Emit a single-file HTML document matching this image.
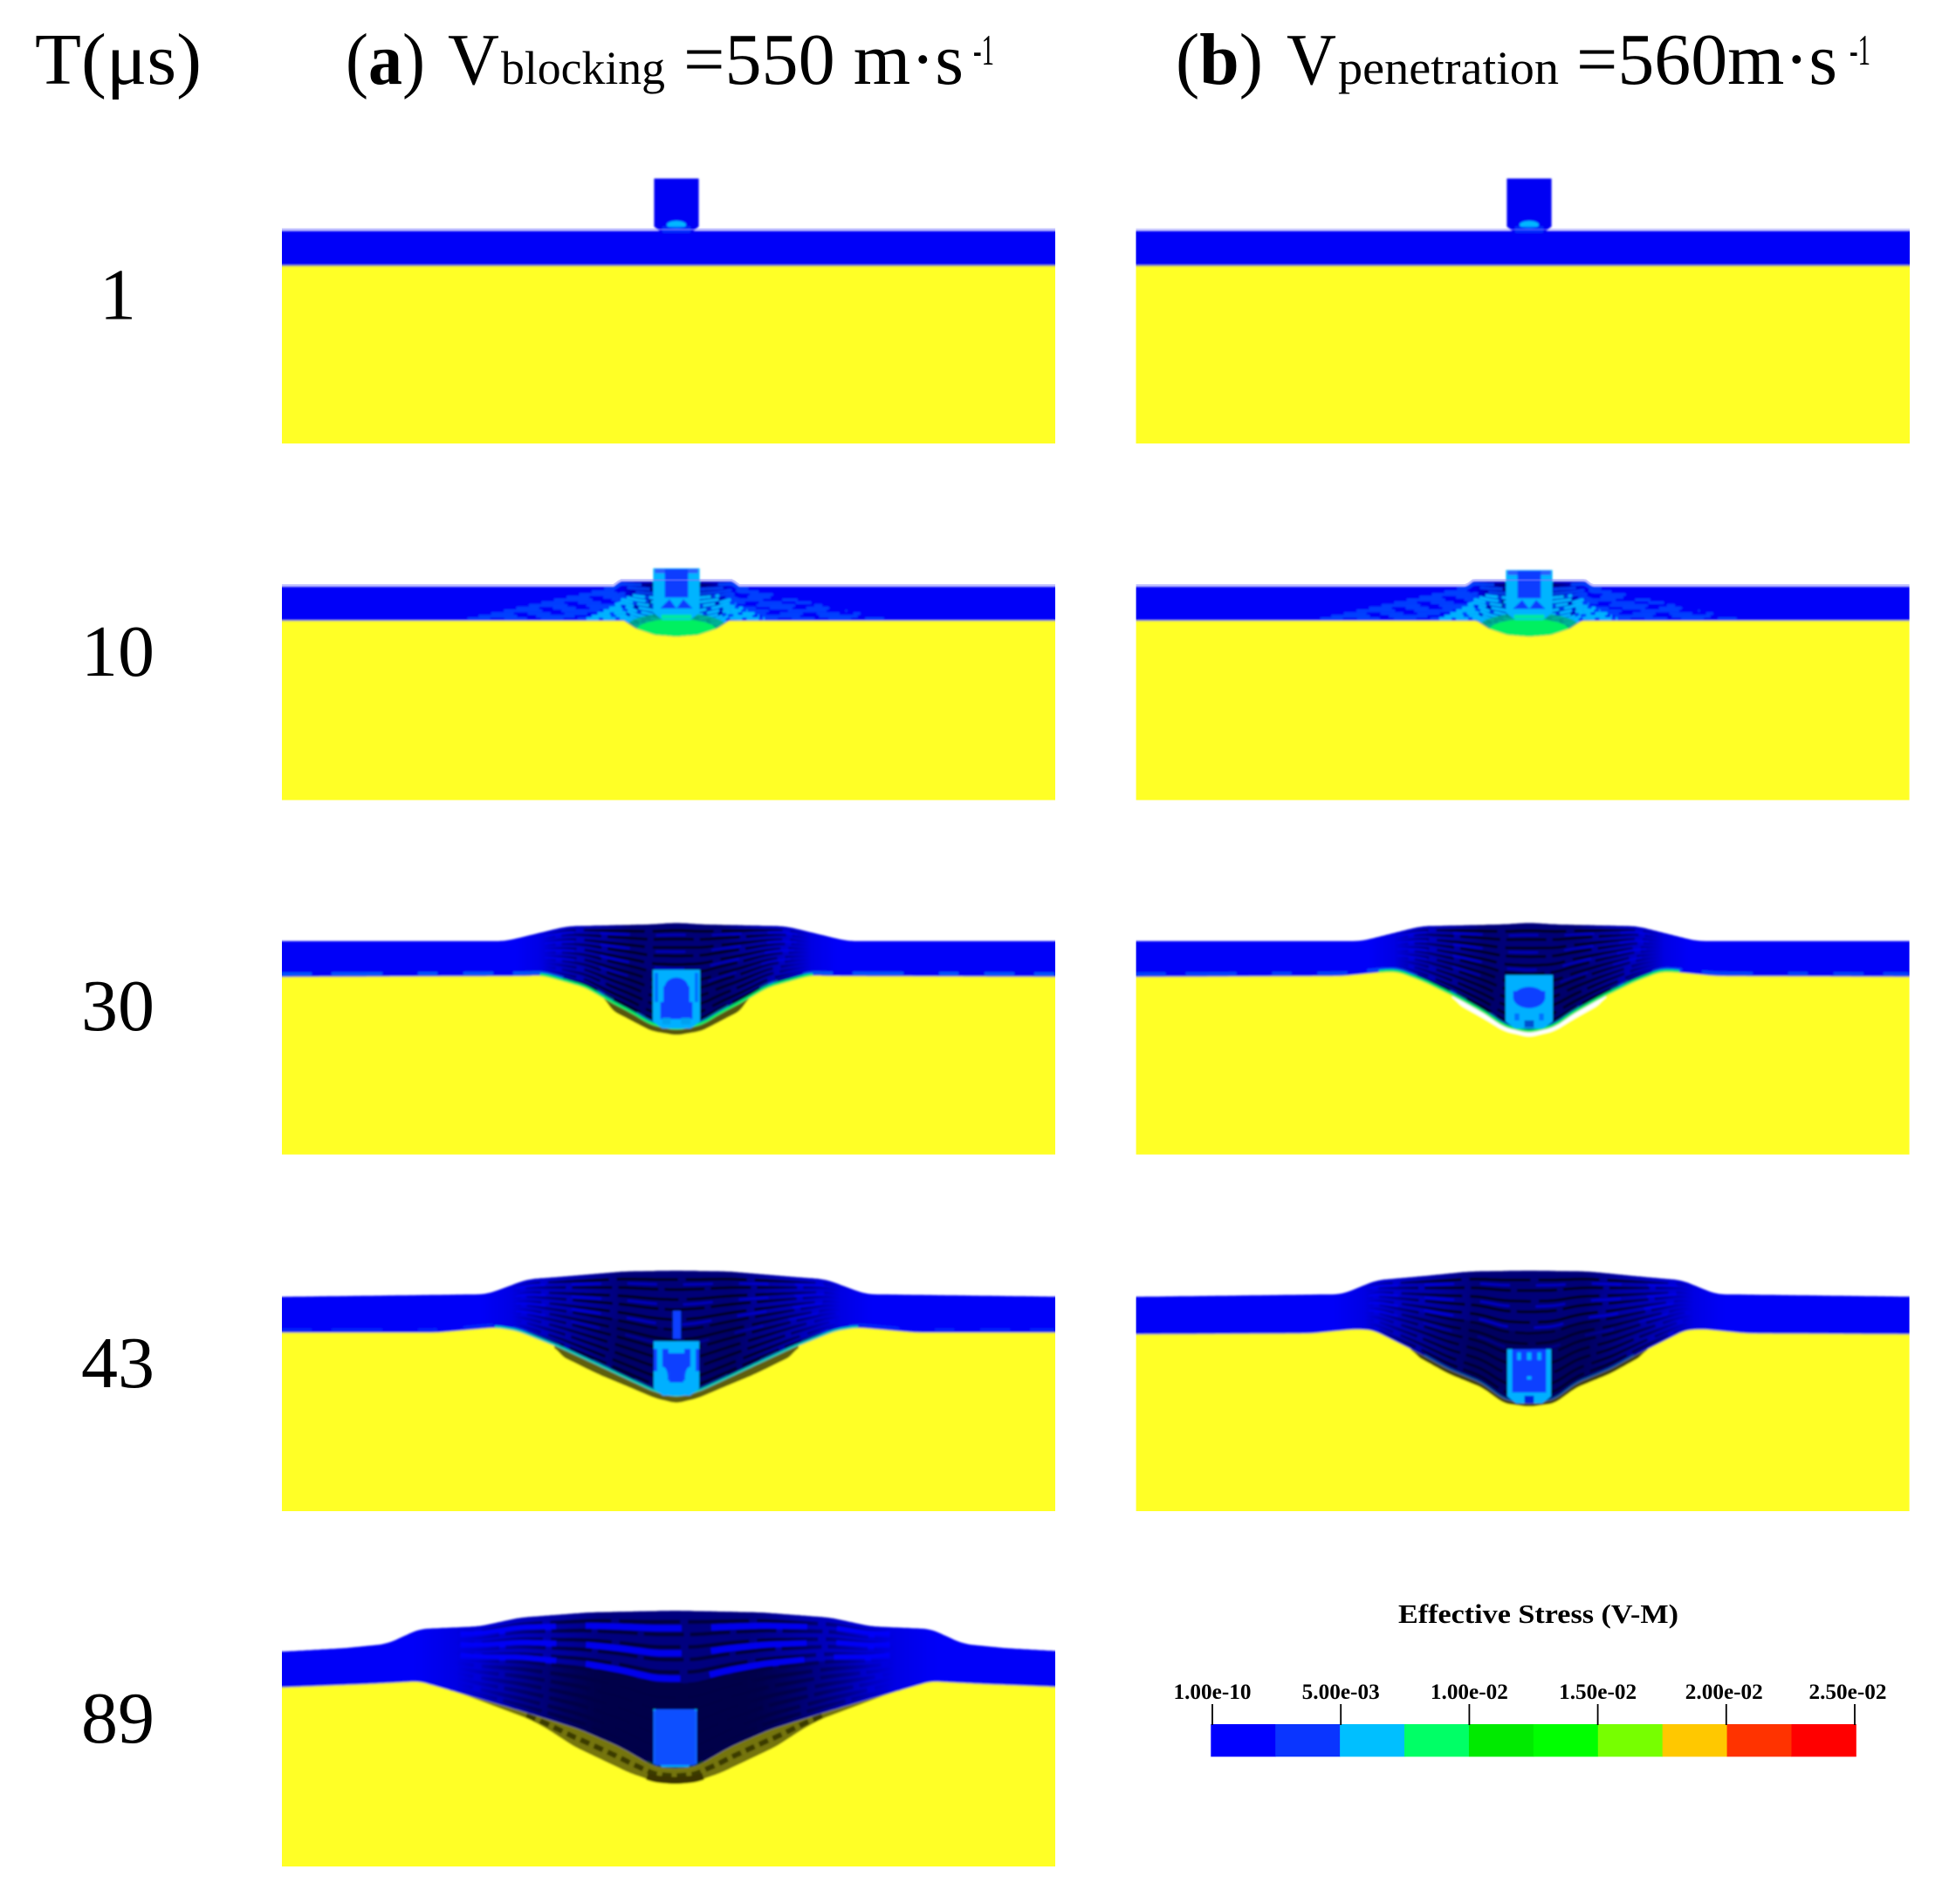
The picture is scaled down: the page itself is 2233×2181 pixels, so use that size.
<!DOCTYPE html>
<html lang="en">
<head>
<meta charset="utf-8">
<title>Effective stress contours at blocking and penetration velocities</title>
<style>
html,body{margin:0;padding:0;background:#fff;width:2233px;height:2181px;overflow:hidden}
svg{display:block}
text{font-family:"Liberation Serif",serif;fill:#000}
</style>
</head>
<body>
<svg id="figure" xmlns="http://www.w3.org/2000/svg" width="2233" height="2181" viewBox="0 0 2233 2181">
  <defs id="defs"><filter id="soft" x="-5%" y="-5%" width="110%" height="110%"><feGaussianBlur stdDeviation="1.1"/></filter></defs>
  <rect width="2233" height="2181" fill="#fff"/>

  <text x="40" y="96" font-size="84" textLength="191" lengthAdjust="spacingAndGlyphs">T(μs)</text>

  <g>
    <text x="396" y="96" font-size="84" textLength="91" lengthAdjust="spacingAndGlyphs">(<tspan font-weight="bold">a</tspan>)</text>
    <text x="513" y="96" font-size="84" textLength="59" lengthAdjust="spacingAndGlyphs">V</text>
    <text x="574" y="96" font-size="54" textLength="188" lengthAdjust="spacingAndGlyphs">blocking</text>
    <text x="783" y="96" font-size="84" textLength="321" lengthAdjust="spacingAndGlyphs">=550 m·s</text>
    <text x="1115" y="74" font-size="50" textLength="24" lengthAdjust="spacingAndGlyphs">-1</text>
  </g>
  <g>
    <text x="1347" y="96" font-size="84" textLength="100" lengthAdjust="spacingAndGlyphs">(<tspan font-weight="bold">b</tspan>)</text>
    <text x="1474" y="96" font-size="84" textLength="57" lengthAdjust="spacingAndGlyphs">V</text>
    <text x="1533" y="96" font-size="54" textLength="253" lengthAdjust="spacingAndGlyphs">penetration</text>
    <text x="1806" y="96" font-size="84" textLength="299" lengthAdjust="spacingAndGlyphs">=560m·s</text>
    <text x="2119" y="74" font-size="50" textLength="24" lengthAdjust="spacingAndGlyphs">-1</text>
  </g>

  <g id="panels"></g>
  <g id="times"></g>
  <g id="legend">
    <text x="1602" y="1859" font-size="31" font-weight="bold" textLength="321" lengthAdjust="spacingAndGlyphs">Effective Stress (V-M)</text>
  </g>
</svg>

<script>
/* Time steps and rows */
const timeLabels = ['1', '10', '30', '43', '89'];

/* Colorbar values */
const barColors = ['#0000ff', '#0a35ff', '#00bfff', '#00ff66', '#00ea00', '#00ff00', '#77ff00', '#ffc800', '#ff3300', '#ff0000'];
const tickValues = [0.0000000001, 0.005, 0.01, 0.015, 0.02, 0.025];
const tickLabels = ['1.00e-10', '5.00e-03', '1.00e-02', '1.50e-02', '2.00e-02', '2.50e-02'];

/* Deformation, in mm. D = distance from impact axis. */
const layerFractions = [0.07, 0.15, 0.23, 0.31, 0.39, 0.47, 0.55, 0.63, 0.71, 0.79, 0.87, 0.94];

const flatTopD = [0, 226];
const flatTopY = [0, 0];
const flatBotD = [0, 226];
const flatBotY = [20, 20];

const a10TopD = [0, 15, 32, 36, 226];
const a10TopY = [-3, -3, -3, 0, 0];
const a10BotD = [0, 12.5, 23, 30, 34, 226];
const a10BotY = [28.5, 27.5, 24, 19.5, 19.5, 19.5];

const a30TopD = [0, 15, 62.5, 98, 226];
const a30TopY = [-10.5, -9.5, -8.5, 0, 0];
const a30BotD = [0, 14.5, 25, 37.5, 52, 66, 77, 87.5, 226];
const a30BotY = [51, 48, 41.5, 35, 26.5, 22.5, 19.5, 20, 20.5];
const a30OutD = [0, 14.5, 25, 37.5, 42];
const a30OutY = [54, 51.5, 46, 39.5, 31];

const b30TopD = [0, 15, 62, 96, 226];
const b30TopY = [-10.5, -9.5, -8.5, 0, 0];
const b30BotD = [0, 14.5, 25, 41, 60.5, 75, 82, 107, 226];
const b30BotY = [52.5, 49, 41.5, 32.5, 23, 17.5, 17.5, 20, 20.5];
const b30OutD = [0, 14.5, 25, 41, 44];
const b30OutY = [55, 51.5, 45, 36, 31];

const a43TopD = [0, 30, 66, 85.5, 108.5, 226];
const a43TopY = [-15, -14.5, -11.5, -10, -1.5, 0];
const a43BotD = [0, 12.5, 26.5, 44.5, 66, 91, 103.5, 137.5, 226];
const a43BotY = [57.5, 54.5, 48, 39.5, 29.5, 19.5, 17.5, 20.5, 20.5];
const a43OutD = [0, 12.5, 26.5, 44.5, 66, 70];
const a43OutY = [61, 58, 52, 44.5, 34, 28];

const b43TopD = [0, 34, 64.5, 87.5, 107, 226];
const b43TopY = [-15, -14.5, -11.5, -9.5, -1.5, 0];
const b43BotD = [0, 14.5, 27, 46.5, 64.5, 89.5, 100, 125, 226];
const b43BotY = [61.5, 59, 49.5, 41.5, 31.5, 19, 18.5, 21, 21.5];
const b43OutD = [0, 14.5, 27, 46.5, 64.5, 68];
const b43OutY = [63, 61, 52, 44, 34, 29];

const a89TopD = [0, 49, 89, 112, 146.5, 165, 189.5, 226];
const a89TopY = [-23.5, -22.5, -19.5, -14.5, -13, -4.5, -2, 0];
const a89BotD = [0, 11.5, 31.5, 54.5, 83, 129, 146.5, 175, 226];
const a89BotY = [67, 66, 54.5, 44.5, 35.5, 22, 17, 18.5, 20.5];
const a89OutD = [0, 11.5, 26, 57.5, 74.5, 84, 120, 129];
const a89OutY = [75.5, 74.5, 69.5, 54.5, 43.5, 38.5, 25, 22];

/* Layout constants */
const PX_PER_MM = 2;
const PANEL_W = 886;
const rowTop = [264.5, 672, 1078, 1485.5, 1892];
const rowBottom = [508, 916.5, 1322.5, 1731, 2138];
const timeBaselines = [365.5, 774, 1180, 1589, 1996];
const colLeft = [323, 1301.6];

const panels = [
  {id:'a1', col:0,row:0,cx:775,topD:flatTopD,topY:flatTopY,botD:flatBotD,botY:flatBotY,pHalf:12.8,pTop:-30,pBot:1.5,kind:'intact',halo:.45},
  {id:'b1', col:1,row:0,cx:1752,topD:flatTopD,topY:flatTopY,botD:flatBotD,botY:flatBotY,pHalf:12.8,pTop:-30,pBot:1.5,kind:'intact',halo:.3},
  {id:'a10',col:0,row:1,cx:775,topD:a10TopD,topY:a10TopY,botD:a10BotD,botY:a10BotY,pHalf:13.3,pTop:-10.5,pBot:19,kind:'early',halo:.4,
    darkD:36,darkOp:.6,streakOp:.5,coreOp:0,blueOp:0,fleck:0},
  {id:'b10',col:1,row:1,cx:1752,topD:a10TopD,topY:a10TopY,botD:a10BotD,botY:a10BotY,pHalf:13.3,pTop:-9.5,pBot:19,kind:'early',halo:.4,
    darkD:36,darkOp:.55,streakOp:.5,coreOp:0,blueOp:0,fleck:0},
  {id:'a30',col:0,row:2,cx:775,topD:a30TopD,topY:a30TopY,botD:a30BotD,botY:a30BotY,outD:a30OutD,outY:a30OutY,outColor:'#57570e',
    pHalf:13.5,pTop:16.5,pBot:50,kind:'a30',edge:'#00e860',edgeW:3,edgeSpan:78,darkD:92,darkOp:1,streakOp:.9,coreOp:.25,blueOp:.5,fleck:.5},
  {id:'b30',col:1,row:2,cx:1752,topD:b30TopD,topY:b30TopY,botD:b30BotD,botY:b30BotY,outD:b30OutD,outY:b30OutY,outColor:'#ffffff',
    pHalf:13.5,pTop:19.5,pBot:50,kind:'b30',edge:'#00e860',edgeW:3,edgeSpan:86,darkD:92,darkOp:1,streakOp:.9,coreOp:.25,blueOp:.5,fleck:.4},
  {id:'a43',col:0,row:3,cx:775,topD:a43TopD,topY:a43TopY,botD:a43BotD,botY:a43BotY,outD:a43OutD,outY:a43OutY,outColor:'#5f5f10',
    pHalf:13,pTop:25.5,pBot:56.5,kind:'a43',edge:'#00c8b0',edgeW:2.5,edgeSpan:104,spike:true,darkD:112,darkOp:1,streakOp:.95,coreOp:.35,blueOp:.55,fleck:.2},
  {id:'b43',col:1,row:3,cx:1752,topD:b43TopD,topY:b43TopY,botD:b43BotD,botY:b43BotY,outD:b43OutD,outY:b43OutY,outColor:'#3c3c08',
    pHalf:12.5,pTop:30,pBot:61,kind:'b43',edge:'#0050a0',edgeW:2,edgeSpan:60,darkD:112,darkOp:1,streakOp:.95,coreOp:.5,blueOp:.6,fleck:0},
  {id:'a89',col:0,row:4,cx:773.5,topD:a89TopD,topY:a89TopY,botD:a89BotD,botY:a89BotY,outD:a89OutD,outY:a89OutY,outColor:'#74740f',
    pHalf:12.5,pTop:33,pBot:66,kind:'a89',edge:'#003c20',edgeW:2,edgeSpan:16,darkD:150,darkOp:.95,streakOp:.6,coreOp:.95,blueOp:.85,fleck:0,scallop:true}
];

const SVGNS = 'http://www.w3.org/2000/svg';
const defs = document.getElementById('defs');
const panelsG = document.getElementById('panels');
const timesG = document.getElementById('times');
const legendG = document.getElementById('legend');

function make(tag, attrs, parent) {
  const n = document.createElementNS(SVGNS, tag);
  for (const k in attrs) n.setAttribute(k, attrs[k]);
  parent.appendChild(n);
  return n;
}
function profile(ds, ys, d) {
  const a = Math.abs(d);
  if (a >= ds[ds.length - 1]) return ys[ys.length - 1];
  for (let i = 1; i < ds.length; i++) {
    if (a <= ds[i]) {
      const t = (a - ds[i - 1]) / (ds[i] - ds[i - 1]);
      return ys[i - 1] + t * (ys[i] - ys[i - 1]);
    }
  }
  return ys[ys.length - 1];
}
function smoothed(ds, ys, d, w) {
  let s = 0, n = 0;
  for (let k = -w; k <= w; k += 1) { s += profile(ds, ys, d + k); n++; }
  return s / n;
}
function pts(list) {
  return list.map(p => p[0].toFixed(1) + ',' + p[1].toFixed(1)).join(' ');
}

/* Interior of the deformed projectile, as blue regions inside a light-blue body */
const BLUE = '#0a40ff';
const CYAN = '#00b0ff';
function projectileInsert(p, pg, sx, sy) {
  const hw = p.pHalf, len = p.pBot - p.pTop;
  const ell = (fx, fy, rx, ry, c) => make('ellipse', {cx: sx(fx * hw), cy: sy(p.pTop + fy * len), rx: rx * hw * PX_PER_MM, ry: ry * len * PX_PER_MM, fill: c}, pg);
  const box = (fx0, fy0, fx1, fy1, c) => make('rect', {x: sx(fx0 * hw), y: sy(p.pTop + fy0 * len), width: (fx1 - fx0) * hw * PX_PER_MM, height: (fy1 - fy0) * len * PX_PER_MM, fill: c}, pg);
  if (p.kind === 'a30') {
    ell(0, .3, .5, .17, BLUE);
    box(-.55, .28, .55, .6, BLUE);
    box(-.68, .55, .68, .84, BLUE);
    box(-.6, .82, -.25, .93, '#00a0f0');
    box(.2, .82, .6, .93, '#00a0f0');
    box(-.92, .05, -.78, .55, '#0070ff');
    box(.78, .05, .92, .55, '#0070ff');
  } else if (p.kind === 'b30') {
    box(-.68, .3, .68, .42, BLUE);
    ell(0, .42, .68, .2, BLUE);
    box(-.62, .72, -.42, .85, '#0070ff');
    box(.42, .72, .62, .85, '#0070ff');
    box(-.2, .85, .2, .98, '#0050d0');
  } else if (p.kind === 'a43') {
    box(-1, .14, 1, .55, BLUE);
    box(-.85, .1, -.62, .55, CYAN);
    box(.62, .1, .85, .55, CYAN);
    box(-.35, .12, .35, .22, CYAN);
    box(-.3, .5, .3, .76, BLUE);
    box(-.6, .52, -.3, .72, BLUE);
    box(.3, .52, .6, .72, BLUE);
    box(-.5, .76, .5, .83, CYAN);
    ell(-.6, .67, .22, .2, CYAN);
    ell(.6, .67, .22, .2, CYAN);
  } else if (p.kind === 'b43') {
    box(-.78, .0, .78, .8, BLUE);
    box(-.55, .06, -.38, .2, CYAN);
    box(-.1, .06, .1, .2, CYAN);
    box(.38, .06, .55, .2, CYAN);
    box(-.1, .5, .1, .56, CYAN);
    box(-.22, .86, .22, 1, '#0020e0');
  } else if (p.kind === 'a89') {
    box(-.9, .0, .9, .97, '#0a50ff');
    box(-1, .02, -.9, .95, '#0a60ff');
    box(.9, .02, 1, .95, '#0a60ff');
  }
}

function drawPanel(p) {
  const left = colLeft[p.col];
  const right = left + PANEL_W;
  const y0 = rowTop[p.row];
  const bottom = rowBottom[p.row];
  const sx = d => p.cx + d * PX_PER_MM;
  const sy = v => y0 + v * PX_PER_MM;
  const minD = (left - p.cx) / PX_PER_MM;
  const maxD = (right - p.cx) / PX_PER_MM;
  const samples = [];
  for (let d = minD - 2; d <= maxD + 2; d += 1.5) samples.push(d);
  const deformed = p.row >= 2;
  const top = d => deformed ? smoothed(p.topD, p.topY, d, 5) : profile(p.topD, p.topY, d);
  const bot = d => deformed ? smoothed(p.botD, p.botY, d, 4) : profile(p.botD, p.botY, d);

  const clip = make('clipPath', {id: 'clip-' + p.id}, defs);
  make('rect', {x: left, y: y0 - 140, width: PANEL_W, height: bottom - y0 + 140}, clip);

  const g = make('g', {'clip-path': 'url(#clip-' + p.id + ')'}, panelsG);
  
  

  const soft = make('g', {filter: 'url(#soft)'}, g);

  const target = make('rect', {x: left - 6, y: y0 + 30, width: PANEL_W + 12, height: bottom - y0 - 30 + 6, fill: '#ffff27'}, soft);
  
  

  /* ring of failed material or gap below the plate */
  if (p.outD) {
    const end = p.outD[p.outD.length - 1];
    const ring = [];
    for (let d = -end; d <= end; d += 1) ring.push([sx(d), sy(smoothed(p.outD, p.outY, d, 3))]);
    const ringTop = [];
    for (let d = end; d >= -end; d -= 1) ringTop.push([sx(d), sy(bot(d) - 1)]);
    const r = make('polygon', {points: pts(ring.concat(ringTop)), fill: p.outColor}, soft);
    
    
    if (p.scallop) {
      const mid = [];
      for (let d = -end * .66; d <= end * .66; d += 1) {
        mid.push([sx(d), sy((profile(p.outD, p.outY, d) + bot(d)) / 2)]);
      }
      const s = make('polyline', {points: pts(mid), fill: 'none', stroke: '#3a3a05', 'stroke-width': 6, 'stroke-dasharray': '11 6'}, soft);
      
      
      const last = [];
      for (let d = -16; d <= 16; d += 1) last.push([sx(d), sy(smoothed(p.outD, p.outY, d, 3) - 1.6)]);
      const c = make('polyline', {points: pts(last), fill: 'none', stroke: '#3a3400', 'stroke-width': 8}, soft);
      
      
    }
  }

  /* plate */
  const plateTop = samples.map(d => [sx(d), sy(top(d))]);
  const plateBot = samples.slice().reverse().map(d => [sx(d), sy(bot(d))]);
  const platePts = pts(plateTop.concat(plateBot));
  const plate = make('polygon', {points: platePts, fill: '#0000f8'}, soft);
  
  

  const plateClip = make('clipPath', {id: 'plate-clip-' + p.id}, defs);
  make('polygon', {points: platePts}, plateClip);

  /* interface tint on undeformed bottom */
  const hair = make('polyline', {points: pts(plateBot), fill: 'none', stroke: '#a8a860', 'stroke-width': 1.6, opacity: p.row === 0 ? .9 : .45}, soft);
  
  

  if (p.halo) {
    const h = make('polyline', {points: pts(plateTop.map(q => [q[0], q[1] - 1.5])), fill: 'none', stroke: '#8080ff', 'stroke-width': 3, opacity: p.halo}, g);
    
    
  }

  /* dark, crushed region with lamination streaks */
  if (p.darkD) {
    const gradId = 'fade-' + p.id;
    const grad = make('linearGradient', {id: gradId, gradientUnits: 'userSpaceOnUse', x1: sx(-p.darkD), x2: sx(p.darkD), y1: 0, y2: 0}, defs);
    make('stop', {offset: '0', 'stop-color': '#0000c0', 'stop-opacity': 0}, grad);
    make('stop', {offset: '.18', 'stop-color': '#0000b8', 'stop-opacity': p.darkOp * .8}, grad);
    make('stop', {offset: '.36', 'stop-color': '#000078', 'stop-opacity': p.darkOp}, grad);
    make('stop', {offset: '.64', 'stop-color': '#000078', 'stop-opacity': p.darkOp}, grad);
    make('stop', {offset: '.82', 'stop-color': '#0000b8', 'stop-opacity': p.darkOp * .8}, grad);
    make('stop', {offset: '1', 'stop-color': '#0000c0', 'stop-opacity': 0}, grad);
    const strokeId = 'fade-stroke-' + p.id;
    const sg = make('linearGradient', {id: strokeId, gradientUnits: 'userSpaceOnUse', x1: sx(-p.darkD), x2: sx(p.darkD), y1: 0, y2: 0}, defs);
    make('stop', {offset: '.08', 'stop-color': '#000010', 'stop-opacity': 0}, sg);
    make('stop', {offset: '.3', 'stop-color': '#000010', 'stop-opacity': p.streakOp}, sg);
    make('stop', {offset: '.7', 'stop-color': '#000010', 'stop-opacity': p.streakOp}, sg);
    make('stop', {offset: '.92', 'stop-color': '#000010', 'stop-opacity': 0}, sg);

    const dark = make('polygon', {points: platePts, fill: 'url(#' + gradId + ')'}, soft);
    
    

    const brightLimit = p.row === 4 ? .4 : .6;
    layerFractions.forEach((f, i) => {
      const line = [];
      for (let d = -p.darkD; d <= p.darkD + .01; d += 1.5) {
        line.push([sx(d), sy(top(d) + f * (bot(d) - top(d)))]);
      }
      const streak = make('polyline', {
        points: pts(line), fill: 'none', stroke: 'url(#' + strokeId + ')',
        'stroke-width': p.row === 4 ? 4.5 : 3.2,
        'stroke-dasharray': (i % 2 ? '46 7' : '70 9')
      }, soft);
      
      
      if (p.blueOp && i % 2 === 0 && f < brightLimit) {
        const u = [];
        const span = p.darkD * .82;
        for (let d = -span; d <= span + .01; d += 1.5) {
          u.push([sx(d), sy(top(d) + (f + .04) * (bot(d) - top(d)))]);
        }
        const bright = make('polyline', {
          points: pts(u), fill: 'none', stroke: '#0000ff', 'stroke-width': p.row === 4 ? 7 : 2.4,
          'stroke-dasharray': (p.row === 4 ? '110 34' : '34 30'), opacity: p.blueOp
        }, soft);
        
        
      }
    });

    if (p.coreOp) {
      const coreId = 'core-fade-' + p.id;
      const cg = make('linearGradient', {id: coreId, gradientUnits: 'userSpaceOnUse', x1: sx(-p.darkD * .75), x2: sx(p.darkD * .75), y1: 0, y2: 0}, defs);
      make('stop', {offset: '0', 'stop-color': '#000048', 'stop-opacity': 0}, cg);
      make('stop', {offset: '.3', 'stop-color': '#000048', 'stop-opacity': p.coreOp}, cg);
      make('stop', {offset: '.7', 'stop-color': '#000048', 'stop-opacity': p.coreOp}, cg);
      make('stop', {offset: '1', 'stop-color': '#000048', 'stop-opacity': 0}, cg);
      const coreTop = [];
      const coreBot = [];
      const span = p.darkD * .8;
      for (let d = -span; d <= span; d += 1.5) {
        coreTop.push([sx(d), sy(top(d) + .46 * (bot(d) - top(d)))]);
        coreBot.unshift([sx(d), sy(bot(d) - .5)]);
      }
      const core = make('polygon', {points: pts(coreTop.concat(coreBot)), fill: 'url(#' + coreId + ')'}, soft);
      
      
    }
  }

  /* flecks along the back face */
  if (p.fleck) {
    const fl = [];
    for (let d = minD; d <= maxD; d += 1.5) fl.push([sx(d), sy(bot(d) - 1.5)]);
    const f = make('polyline', {points: pts(fl), fill: 'none', stroke: '#00a8ff', 'stroke-width': 4, 'stroke-dasharray': '34 23 58 41 22 30', opacity: p.fleck}, soft);
    
    
  }

  /* Early wave spread: blotchy light-blue fan and green bowl */
  if (p.kind === 'early') {
    const fan = make('g', {'clip-path': 'url(#plate-clip-' + p.id + ')'}, soft);
    
    
    layerFractions.forEach((f, i) => {
      const far = [];
      const span = 35 + f * 90;
      for (let d = -span; d <= span + .01; d += 1.5) far.push([sx(d), sy(top(d) + f * (bot(d) - top(d)))]);
      make('polyline', {points: pts(far), fill: 'none', stroke: '#0050ff', 'stroke-width': 3.2, 'stroke-dasharray': (i % 2 ? '26 16' : '44 22'), opacity: .8}, fan);
      if (f > .3) {
        const near = [];
        const s2 = 12 + f * 42;
        for (let d = -s2; d <= s2 + .01; d += 1.5) near.push([sx(d), sy(top(d) + f * (bot(d) - top(d)))]);
        make('polyline', {points: pts(near), fill: 'none', stroke: '#00b8ff', 'stroke-width': 3.6, 'stroke-dasharray': (i % 2 ? '14 5' : '22 6'), opacity: .95}, fan);
      }
    });
    make('ellipse', {cx: sx(0), cy: sy(23.5), rx: 58, ry: 17, fill: '#00b080', opacity: .85}, fan);
    make('ellipse', {cx: sx(0), cy: sy(25), rx: 46, ry: 13, fill: '#00f060'}, fan);
  }

  /* glowing edge on the back face */
  if (p.edge) {
    const e = [];
    for (let d = -p.edgeSpan; d <= p.edgeSpan; d += 1) e.push([sx(d), sy(bot(d) - .6)]);
    const edge = make('polyline', {points: pts(e), fill: 'none', stroke: p.edge, 'stroke-width': p.edgeW}, soft);
    
    
  }

  /* projectile */
  const pg = make('g', {}, soft);
  
  
  const hw = p.pHalf;
  const len = p.pBot - p.pTop;
  const body = [
    [sx(-hw), sy(p.pTop)], [sx(hw), sy(p.pTop)], [sx(hw), sy(p.pBot - 4)],
    [sx(hw * .6), sy(p.pBot)], [sx(-hw * .6), sy(p.pBot)], [sx(-hw), sy(p.pBot - 4)]
  ];
  if (p.kind === 'intact') {
    make('polygon', {points: pts(body), fill: '#0000f4'}, pg);
    make('ellipse', {cx: sx(0), cy: sy(p.pBot - 5), rx: 11, ry: 4.5, fill: '#00b8ff'}, pg);
    make('rect', {x: sx(-8), y: sy(p.pBot - 4), width: 32, height: 7, fill: '#0040ff', opacity: .7}, pg);
  } else if (p.kind === 'early') {
    make('polygon', {points: pts(body), fill: '#00b4ff'}, pg);
    make('rect', {x: sx(-hw * .93), y: sy(p.pTop + .3), width: hw * 4 * .93, height: 5, fill: '#2a5cff'}, pg);
    make('rect', {x: sx(-hw * .5), y: sy(p.pTop + .5), width: hw * 2, height: len * 2 * .55, fill: '#0a3cff'}, pg);
    make('polygon', {points: pts([[sx(-hw * .7), sy(p.pTop + len * .78)], [sx(-hw * .3), sy(p.pTop + len * .6)], [sx(0), sy(p.pTop + len * .78)], [sx(hw * .3), sy(p.pTop + len * .6)], [sx(hw * .7), sy(p.pTop + len * .78)]]), fill: '#0a3cff'}, pg);
    make('rect', {x: sx(-hw * .65), y: sy(p.pBot - 3), width: hw * 2.6, height: 5, fill: '#00e8a0'}, pg);
  } else {
    make('polygon', {points: pts(body), fill: CYAN}, pg);
    projectileInsert(p, pg, sx, sy);
    if (p.spike) {
      make('rect', {x: sx(-2), y: sy(8), width: 9, height: 32, fill: '#0a40ff'}, pg);
    }
  }
}
panels.forEach(drawPanel);

/* Time labels */
timeLabels.forEach((t, i) => {
  const n = make('text', {
    x: 135, y: timeBaselines[i],
    'font-size': 84, 'text-anchor': 'middle'
  }, timesG);
  
  
  n.textContent = t;
});

/* Colorbar */
const BAR_LEFT = 1387.3;
const BAR_RIGHT = 2126.4;
const BAR_TOP = 1975;
const BAR_BOTTOM = 2012.3;
const TICK_LEFT = 1389;
const TICK_RIGHT = 2125;
const stressMax = tickValues[tickValues.length - 1];
const xStress = v => TICK_LEFT + (v / stressMax) * (TICK_RIGHT - TICK_LEFT);

barColors.forEach((c, i) => {
  const w = (BAR_RIGHT - BAR_LEFT) / barColors.length;
  const r = make('rect', {x: BAR_LEFT + i * w, y: BAR_TOP, width: w + .4, height: BAR_BOTTOM - BAR_TOP, fill: c}, legendG);
  
  
});
tickValues.forEach((v, i) => {
  const x = xStress(v);
  const l = make('line', {x1: x, x2: x, y1: 1952, y2: BAR_TOP + 1, stroke: '#000', 'stroke-width': 1.8}, legendG);
  
  
  const labelShift = i === tickValues.length - 1 ? -8 : i === tickValues.length - 2 ? -2.5 : 0;
  const t = make('text', {
    x: x + labelShift, y: 1946, 'font-size': 25, 'font-weight': 'bold',
    'text-anchor': 'middle', textLength: 89, lengthAdjust: 'spacingAndGlyphs'
  }, legendG);
  
  
  t.textContent = tickLabels[i];
});
</script>
</body>
</html>
